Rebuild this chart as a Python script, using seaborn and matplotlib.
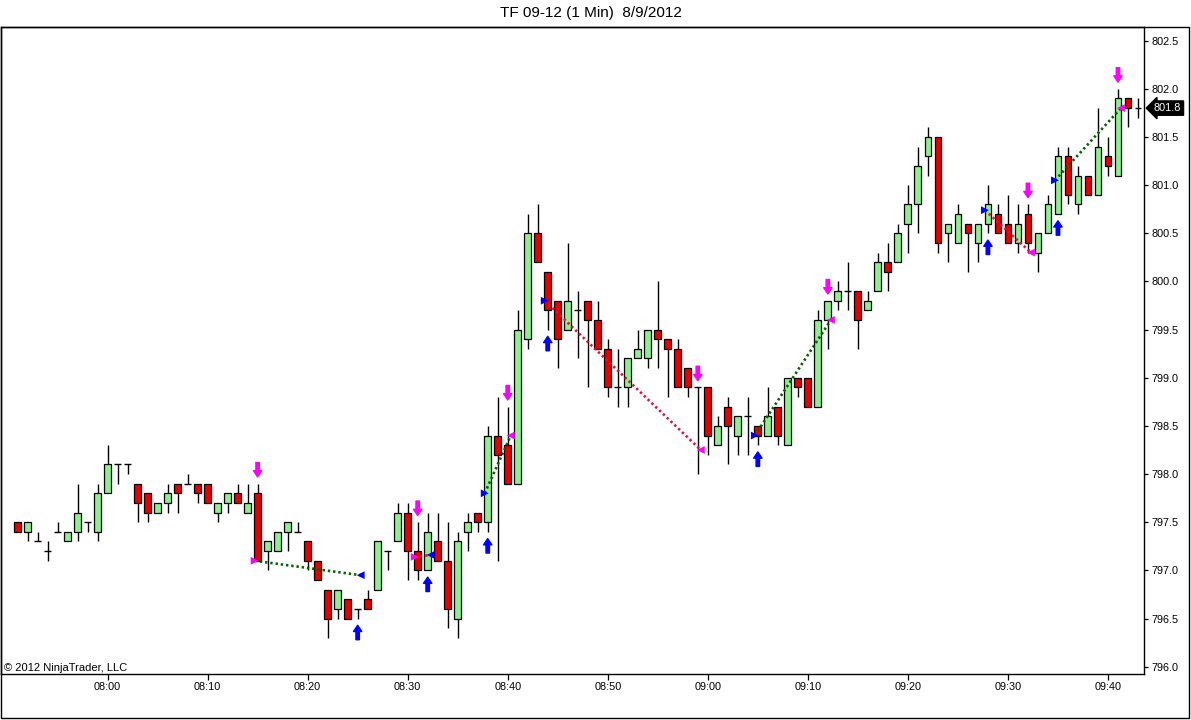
import numpy as np
import pandas as pd
import matplotlib
matplotlib.use("Agg")
import matplotlib.pyplot as plt
import seaborn as sns

# 1 minute bars, TF 09-12, first bar 07:51
opens = [797.5, 797.4, 797.3, 797.2, 797.4, 797.3, 797.4, 797.5, 797.4, 797.8,
         798.1, 798.1, 797.9, 797.8, 797.6, 797.7, 797.9, 797.9, 797.9, 797.9,
         797.6, 797.7, 797.8, 797.6, 797.8, 797.2, 797.2, 797.4, 797.4, 797.3,
         797.1, 796.8, 796.6, 796.7, 796.6, 796.7, 796.8, 797.2, 797.3, 797.6,
         797.2, 797.0, 797.3, 797.1, 796.5, 797.4, 797.6, 797.5, 798.4, 798.3,
         797.9, 799.4, 800.5, 800.1, 799.8, 799.5, 799.7, 799.8, 799.6, 799.3,
         798.9, 798.9, 799.2, 799.2, 799.5, 799.4, 799.3, 799.1, 798.9, 798.9,
         798.3, 798.7, 798.4, 798.6, 798.5, 798.4, 798.7, 798.3, 799.0, 799.0,
         798.7, 799.6, 799.8, 799.9, 799.9, 799.7, 799.9, 800.2, 800.2, 800.6,
         800.8, 801.3, 801.5, 800.5, 800.4, 800.6, 800.4, 800.6, 800.7, 800.6,
         800.4, 800.7, 800.3, 800.5, 800.7, 801.3, 800.8, 801.1, 800.9, 801.3,
         801.1, 801.9, 801.8]
highs = [797.5, 797.5, 797.4, 797.3, 797.5, 797.4, 797.9, 797.5, 797.9, 798.3,
         798.1, 798.1, 797.9, 797.8, 797.7, 797.9, 797.9, 798.0, 797.9, 797.9,
         797.7, 797.8, 797.9, 797.9, 797.9, 797.3, 797.4, 797.5, 797.5, 797.3,
         797.1, 796.8, 796.8, 796.7, 796.6, 796.8, 797.3, 797.2, 797.7, 797.7,
         797.5, 797.6, 797.6, 797.5, 797.4, 797.6, 797.6, 798.5, 798.8, 798.7,
         799.7, 800.7, 800.8, 800.1, 799.8, 800.4, 799.9, 799.8, 799.8, 799.4,
         799.3, 799.2, 799.5, 799.5, 800.0, 799.4, 799.4, 799.1, 798.9, 798.9,
         798.6, 798.8, 798.6, 798.8, 798.5, 798.9, 798.7, 799.0, 799.0, 799.0,
         799.7, 799.8, 800.0, 800.2, 799.9, 799.9, 800.3, 800.4, 800.6, 801.0,
         801.4, 801.6, 801.5, 800.6, 800.8, 800.6, 800.6, 801.0, 800.8, 800.9,
         800.8, 800.8, 800.5, 800.9, 801.4, 801.4, 801.2, 801.1, 801.8, 801.5,
         802.0, 801.9, 801.9]
lows = [797.4, 797.3, 797.3, 797.1, 797.4, 797.3, 797.3, 797.4, 797.3, 797.8,
        797.9, 798.0, 797.5, 797.5, 797.6, 797.6, 797.6, 797.9, 797.7, 797.7,
        797.5, 797.6, 797.7, 797.6, 797.1, 797.0, 797.2, 797.2, 797.4, 797.0,
        796.9, 796.3, 796.5, 796.5, 796.5, 796.6, 796.8, 797.0, 797.3, 796.9,
        796.9, 797.0, 797.1, 796.4, 796.3, 797.2, 797.4, 797.4, 797.1, 797.9,
        797.9, 799.3, 800.2, 799.5, 799.1, 799.5, 799.2, 798.9, 799.3, 798.8,
        798.7, 798.7, 799.2, 799.1, 799.1, 798.8, 798.9, 798.8, 798.0, 798.2,
        798.3, 798.1, 798.2, 798.2, 798.3, 798.4, 798.3, 798.3, 798.8, 798.7,
        798.7, 799.3, 799.7, 799.7, 799.3, 799.7, 799.9, 799.9, 800.2, 800.3,
        800.5, 801.1, 800.3, 800.2, 800.4, 800.1, 800.2, 800.5, 800.5, 800.4,
        800.3, 800.3, 800.1, 800.5, 800.7, 800.8, 800.7, 800.9, 800.9, 801.1,
        801.1, 801.6, 801.7]
closes = [797.4, 797.5, 797.3, 797.2, 797.4, 797.4, 797.6, 797.5, 797.8, 798.1,
          798.1, 798.1, 797.7, 797.6, 797.7, 797.8, 797.8, 797.9, 797.8, 797.7,
          797.7, 797.8, 797.7, 797.7, 797.1, 797.3, 797.4, 797.5, 797.4, 797.1,
          796.9, 796.5, 796.8, 796.5, 796.6, 796.6, 797.3, 797.2, 797.6, 797.2,
          797.0, 797.4, 797.1, 796.6, 797.3, 797.5, 797.5, 798.4, 798.2, 797.9,
          799.5, 800.5, 800.2, 799.7, 799.4, 799.8, 799.7, 799.6, 799.3, 798.9,
          798.9, 799.2, 799.3, 799.5, 799.4, 799.3, 798.9, 798.9, 798.9, 798.4,
          798.5, 798.5, 798.6, 798.6, 798.4, 798.6, 798.4, 799.0, 798.9, 798.7,
          799.6, 799.8, 799.9, 799.9, 799.6, 799.8, 800.2, 800.1, 800.5, 800.8,
          801.2, 801.5, 800.4, 800.6, 800.7, 800.5, 800.6, 800.8, 800.5, 800.4,
          800.6, 800.4, 800.5, 800.8, 801.3, 800.9, 801.1, 800.9, 801.4, 801.2,
          801.9, 801.8, 801.8]

# bar index of each time label (bar 0 = 07:51)
tick_idx = [9, 19, 29, 39, 49, 59, 69, 79, 89, 99, 109]
tick_labels = ["08:00", "08:10", "08:20", "08:30", "08:40", "08:50",
               "09:00", "09:10", "09:20", "09:30", "09:40"]
price_ticks = [796.0, 796.5, 797.0, 797.5, 798.0, 798.5, 799.0,
               799.5, 800.0, 800.5, 801.0, 801.5, 802.0, 802.5]
last_price = 801.8

# executed trades
trade_side = ["short", "short", "long", "long", "long", "long", "long"]
entry_idx = [24, 40, 47, 53, 74, 97, 104]
entry_px = [797.10, 797.14, 797.80, 799.80, 798.40, 800.74, 801.05]
exit_idx = [34, 41, 49, 68, 81, 101, 110]
exit_px = [796.95, 797.16, 798.40, 798.25, 799.60, 800.30, 801.80]

# signal arrows
buy_signal_idx = [34, 41, 47, 53, 74, 97, 104]
sell_signal_idx = [24, 40, 49, 68, 81, 101, 110]

sns.set_style("white")
plt.rcParams['font.family'] = ['Liberation Sans', 'DejaVu Sans']

W, H = 1191, 720
fig = plt.figure(figsize=(W / 100, H / 100), dpi=100, facecolor="white")
ax = fig.add_axes([0.5 / W, 1 - 674 / H, 1143.5 / W, 647 / H])

df = pd.DataFrame({"o": opens, "h": highs, "l": lows, "c": closes})
df["x"] = np.arange(len(df))
up = df.c > df.o
dn = df.c < df.o
flat = df.c == df.o
bw = 0.68

ax.vlines(df.x, df.l, df.h, color="black", lw=1.0, zorder=1)
ax.bar(df.x[up], (df.c - df.o)[up], bottom=df.o[up], width=bw,
       color="#90EE90", edgecolor="black", lw=0.9, zorder=2)
ax.bar(df.x[dn], (df.o - df.c)[dn], bottom=df.c[dn], width=bw,
       color="#E80000", edgecolor="black", lw=0.9, zorder=2)
ax.hlines(df.o[flat], df.x[flat] - bw / 2, df.x[flat] + bw / 2,
          color="black", lw=1.0, zorder=2)

# trade lines and entry/exit marks
rows = []
marks = []
for k in range(len(trade_side)):
    sign = 1 if trade_side[k] == "long" else -1
    res = "win" if (exit_px[k] - entry_px[k]) * sign > 0 else "loss"
    rows.append({"trade": k, "x": entry_idx[k] - 0.3, "y": entry_px[k], "result": res})
    rows.append({"trade": k, "x": exit_idx[k] + 0.3, "y": exit_px[k], "result": res})
    marks.append({"x": entry_idx[k] - 0.3, "y": entry_px[k], "kind": "entry",
                  "act": "buy" if sign > 0 else "sell"})
    marks.append({"x": exit_idx[k] + 0.3, "y": exit_px[k], "kind": "exit",
                  "act": "sell" if sign > 0 else "buy"})
tr = pd.DataFrame(rows)
mk = pd.DataFrame(marks)

n0 = len(ax.lines)
sns.lineplot(data=tr, x="x", y="y", hue="result", units="trade", estimator=None,
             palette={"win": "#006400", "loss": "#DC143C"}, lw=1.9,
             sort=False, legend=False, ax=ax, zorder=4)
for ln in ax.lines[n0:]:
    ln.set_dashes([0.9, 1.1])

pal = {"buy": "#0000FF", "sell": "#FF00FF"}
sns.scatterplot(data=mk[mk.kind == "entry"], x="x", y="y", hue="act", palette=pal,
                marker=">", s=32, linewidth=0, legend=False, ax=ax, zorder=5)
sns.scatterplot(data=mk[mk.kind == "exit"], x="x", y="y", hue="act", palette=pal,
                marker="<", s=32, linewidth=0, legend=False, ax=ax, zorder=5)

arrow_style = "simple,head_length=0.45,head_width=0.6,tail_width=0.25"
for i in buy_signal_idx:
    tip = lows[i] - 0.07
    ax.annotate("", xy=(i, tip), xytext=(i, tip - 0.15),
                arrowprops=dict(arrowstyle=arrow_style, color="#0000FF",
                                shrinkA=0, shrinkB=0, mutation_scale=10), zorder=6)
for i in sell_signal_idx:
    tip = highs[i] + 0.07
    ax.annotate("", xy=(i, tip), xytext=(i, tip + 0.15),
                arrowprops=dict(arrowstyle=arrow_style, color="#FF00FF",
                                shrinkA=0, shrinkB=0, mutation_scale=10), zorder=6)

ax.set_xlim(-1.7, 112.6)
ax.set_ylim(795.924, 802.642)
ax.set_xticks(tick_idx)
ax.set_xticklabels(tick_labels)
ax.set_yticks(price_ticks)
ax.set_yticklabels([f"{p:.1f}" for p in price_ticks])
ax.set_xlabel("")
ax.set_ylabel("")
ax.tick_params(axis="x", bottom=True, direction="out", length=4.3, width=0.9,
               pad=1.5, labelsize=7.8, colors="black")
ax.tick_params(axis="y", left=False, labelleft=False, right=True, labelright=True,
               direction="out", length=3, width=0.9, pad=2.5, labelsize=7.8,
               colors="black")
for s in ax.spines.values():
    s.set_color("black")
    s.set_linewidth(1.0)
    s.set_visible(True)

ax.text(1.0 + 10 / 1143.5, last_price, f"{last_price:.1f}",
        transform=ax.get_yaxis_transform(), ha="left", va="center",
        color="white", fontsize=7.8, clip_on=False, zorder=10,
        bbox=dict(boxstyle="larrow,pad=0.2", fc="black", ec="black"))

ax.text(3 / 1143.5, 3 / 647, "\u00a9 2012 NinjaTrader, LLC", transform=ax.transAxes,
        ha="left", va="baseline", fontsize=8, color="black")

fig.text(591 / W, 1 - 13 / H, "TF 09-12 (1 Min)  8/9/2012", ha="center", va="center",
         fontsize=11, color="black")

fig.add_artist(plt.Rectangle((0.5 / W, 2 / H), 1188.5 / W, 691 / H,
                             transform=fig.transFigure, fill=False,
                             edgecolor="black", lw=1.0))

fig.savefig("out.png", dpi=100, facecolor="white")
